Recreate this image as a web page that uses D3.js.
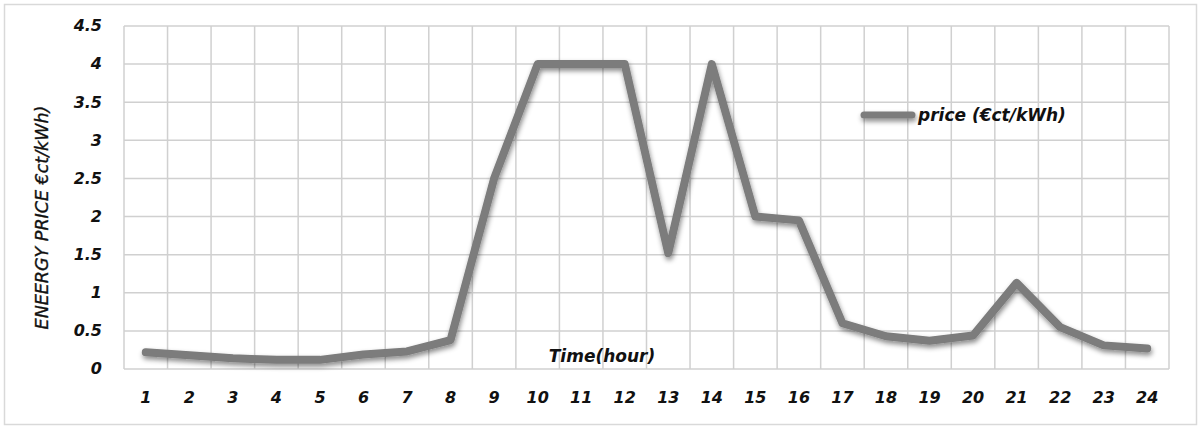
<!DOCTYPE html>
<html><head><meta charset="utf-8">
<script src="https://cdn.jsdelivr.net/npm/d3@7"></script>
<style>body{margin:0;background:#fff}svg{display:block}</style>
</head><body>
<svg id="c" width="1200" height="429"></svg>
<script>
const hours = ["1","2","3","4","5","6","7","8","9","10","11","12","13","14","15","16","17","18","19","20","21","22","23","24"];
const price = [0.22,0.18,0.14,0.12,0.12,0.19,0.23,0.38,2.5,4,4,4,1.52,4,2,1.95,0.6,0.43,0.37,0.44,1.13,0.55,0.31,0.27];
const yTicks = [0,0.5,1,1.5,2,2.5,3,3.5,4,4.5];
const yTickLabels = ["0","0.5","1","1.5","2","2.5","3","3.5","4","4.5"];
const yTitle = "ENEERGY PRICE €ct/kWh)";
const xTitle = "Time(hour)";
const legendLabel = "price (€ct/kWh)";

const svg = d3.select("#c");
const L = 124, R = 1169, T = 26, B = 369;
const font = "'DejaVu Sans', Verdana, sans-serif";

svg.append("rect").attr("x",4.5).attr("y",4.5).attr("width",1192).attr("height",420)
  .attr("fill","#fff").attr("stroke","#d9d9d9").attr("stroke-width",1.5);

const defs = svg.append("defs");
const f = defs.append("filter").attr("id","sh").attr("filterUnits","userSpaceOnUse")
  .attr("x",0).attr("y",0).attr("width",1200).attr("height",429);
f.append("feDropShadow").attr("dx",1).attr("dy",3).attr("stdDeviation",2.5).attr("flood-color","#000").attr("flood-opacity",0.45);

const x = d3.scaleBand().domain(hours).range([L,R]).padding(0);
const y = d3.scaleLinear().domain([0,4.5]).range([B,T]);

const g = svg.append("g");
g.selectAll("line.h").data(yTicks).join("line")
  .attr("x1",L).attr("x2",R).attr("y1",d=>y(d)).attr("y2",d=>y(d))
  .attr("stroke","#d0d0d0").attr("stroke-width",1.5);
const bounds = hours.map(h=>x(h)).concat([x(hours[hours.length-1])+x.bandwidth()]);
g.selectAll("line.v").data(bounds).join("line")
  .attr("x1",d=>d).attr("x2",d=>d).attr("y1",T).attr("y2",B)
  .attr("stroke","#d0d0d0").attr("stroke-width",1.5);

const yAxis = d3.axisLeft(y).tickValues(yTicks).tickFormat((d,i)=>yTickLabels[i]).tickSize(0).tickPadding(22);
const ya = svg.append("g").attr("transform",`translate(${L},0)`).call(yAxis);
ya.select(".domain").remove();
ya.selectAll("text").attr("font-family",font).attr("font-size",16).attr("font-weight","bold")
  .attr("font-style","italic").attr("fill","#111").attr("dy","0.3em");

const xAxis = d3.axisBottom(x).tickSize(0).tickPadding(23);
const xa = svg.append("g").attr("transform",`translate(0,${B})`).call(xAxis);
xa.select(".domain").remove();
xa.selectAll("text").attr("font-family",font).attr("font-size",16).attr("font-weight","bold")
  .attr("font-style","italic").attr("fill","#111");

const line = d3.line().x((d,i)=>x(hours[i])+x.bandwidth()/2).y(d=>y(d));
svg.append("path").datum(price).attr("d",line).attr("fill","none")
  .attr("stroke","#7b7b7b").attr("stroke-width",8).attr("stroke-linejoin","round").attr("stroke-linecap","round")
  .attr("filter","url(#sh)");

svg.append("text").attr("transform",`translate(48,${(T+B)/2+20}) rotate(-90)`)
  .attr("text-anchor","middle").attr("font-family",font).attr("font-size",17.5)
  .attr("font-style","italic").attr("fill","#111").attr("stroke","#111").attr("stroke-width",0.35).text(yTitle);
svg.append("text").attr("x",602).attr("y",362).attr("text-anchor","middle")
  .attr("font-family",font).attr("font-size",17).attr("font-weight","bold").attr("font-style","italic")
  .attr("fill","#111").text(xTitle);

svg.append("line").attr("x1",864).attr("x2",912).attr("y1",115).attr("y2",115)
  .attr("stroke","#7b7b7b").attr("stroke-width",7).attr("stroke-linecap","round").attr("filter","url(#sh)");
svg.append("text").attr("x",918).attr("y",121).attr("font-family",font).attr("font-size",17)
  .attr("font-weight","bold").attr("font-style","italic").attr("fill","#111").text(legendLabel);
</script>
</body></html>
